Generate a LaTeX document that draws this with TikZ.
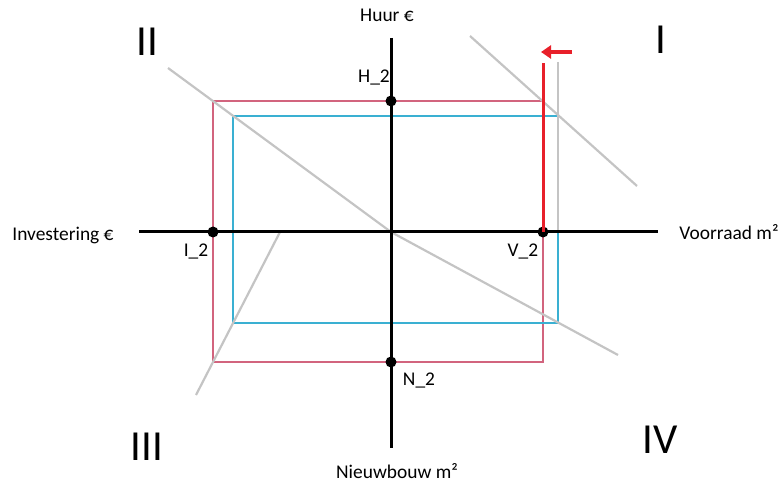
\documentclass[tikz,border=0pt]{standalone}
\usepackage{fontspec}
\setmainfont{Carlito}
\usetikzlibrary{arrows.meta}

\definecolor{pinkline}{HTML}{D2647E}
\definecolor{cyanline}{HTML}{3AB0D2}
\definecolor{redline}{HTML}{E8202A}
\definecolor{greyline}{HTML}{C4C4C4}

\begin{document}
\begin{tikzpicture}[x=1bp,y=-1bp,
    axis/.style={line width=3bp,black},
    guide/.style={line width=2.2bp,greyline},
    dot/.style={circle,fill=black,inner sep=0pt,minimum size=11bp},
    lbl/.style={font=\fontsize{19.5}{22}\selectfont,inner sep=0pt},
    quad/.style={font=\fontsize{43}{48}\selectfont,inner sep=0pt}]

    \useasboundingbox (0,0) rectangle (782,484);

    % end points of the axes
    \coordinate (xl) at (139,232);
    \coordinate (xr) at (658,232);
    \coordinate (yt) at (391,38);
    \coordinate (yb) at (391,448);
    \coordinate (o) at (391,232);

    % old and new situation
    \draw[pinkline,line width=1.2bp] (213,101) rectangle (543,362);
    \draw[cyanline,line width=1.2bp] (233,116) rectangle (558,323);

    % curves per quadrant
    \draw[guide] (470,36) -- (637,186);
    \draw[guide] (168,68) -- (o) -- (618,355);
    \draw[guide] (280,232) -- (196,395);
    \draw[guide] (558,62) -- (558,232);

    \draw[axis] (xl) -- (xr);
    \draw[axis] (yt) -- (yb);

    \node[dot] (h2) at (391,101) {};
    \node[dot] (i2) at (213,232) {};
    \node[dot] (v2) at (543,232) {};
    \node[dot] (n2) at (391,362) {};

    % shift of the supply
    \coordinate (vtop) at (543,63);
    \draw[redline,line width=3bp] (v2.center) -- (vtop);
    \coordinate (pa) at (572,52);
    \coordinate (pb) at (541,52);
    \draw[redline,line width=4bp,-{Triangle[length=10bp,width=13bp]}] (pa) -- (pb);

    \node[lbl] (lh) at (374,78) {H\_2};
    \node[lbl] (li) at (196,252) {I\_2};
    \node[lbl] (lv) at (523,252) {V\_2};
    \node[lbl] (ln) at (419,380) {N\_2};

    \node[lbl] (huur) at (387,15) {Huur €};
    \node[lbl] (inv) at (63,235) {Investering €};
    \node[lbl] (voor) at (729,232) {Voorraad m²};
    \node[lbl] (nieuw) at (397,471) {Nieuwbouw m²};

    \node[quad] (q1) at (661,40) {I};
    \node[quad] (q2) at (147,42) {II};
    \node[quad] (q3) at (147,447) {III};
    \node[quad] (q4) at (660,440) {IV};

\end{tikzpicture}
\end{document}
